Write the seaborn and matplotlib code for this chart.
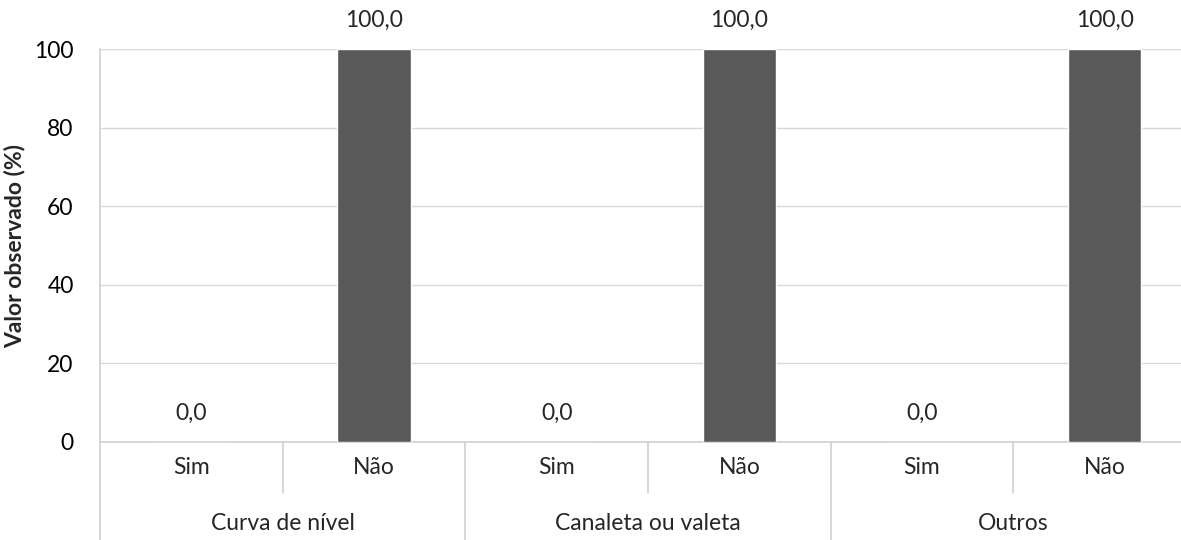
import seaborn as sns
import matplotlib.pyplot as plt
import matplotlib.transforms as mtransforms
import pandas as pd

# dados
grupos = ["Curva de nível", "Canaleta ou valeta", "Outros"]
respostas = ["Sim", "Não"]
valores = [0.0, 100.0, 0.0, 100.0, 0.0, 100.0]

linhas = []
i = 0
for g in grupos:
    for r in respostas:
        linhas.append({"grupo": g, "resposta": r, "slot": f"{g}|{r}", "valor": valores[i]})
        i += 1
df = pd.DataFrame(linhas)

sns.set_style("white")
plt.rcParams["font.family"] = ["Lato", "DejaVu Sans"]
fs = 16.5

fig = plt.figure(figsize=(11.81, 5.4), dpi=100)
ax = fig.add_axes([100 / 1181, (540 - 442) / 540, (1196 - 100) / 1181, (442 - 49) / 540])

sns.barplot(data=df, x="slot", y="valor", color="#595959", width=0.4,
            saturation=1, ax=ax, zorder=3)

ax.set_ylim(0, 100)
ax.set_xlim(-0.5, 5.5)
ax.set_yticks(range(0, 101, 20))
ax.yaxis.grid(True, color="#d9d9d9", linewidth=1, zorder=0)
ax.tick_params(axis="y", length=0, pad=19, labelsize=fs, labelcolor="black")
ax.tick_params(axis="x", length=0, labelbottom=False)
for s in ["top", "right"]:
    ax.spines[s].set_visible(False)
for s in ["left", "bottom"]:
    ax.spines[s].set_color("#d0d0d0")
    ax.spines[s].set_linewidth(1.2)
ax.set_xlabel("")
ax.set_ylabel("Valor observado (%)", fontsize=fs, fontweight="bold", labelpad=6)

rotulos = [f"{v:.1f}".replace(".", ",") for v in df["valor"]]
ax.bar_label(ax.containers[0], labels=rotulos, padding=13, fontsize=fs)

# eixo x em dois níveis
trans = mtransforms.blended_transform_factory(ax.transData, fig.transFigure)
y_eixo = (540 - 442) / 540
y_meio = (540 - 493) / 540
for k, r in enumerate(df["resposta"]):
    ax.text(k, (540 - 467) / 540, r, transform=trans, ha="center", va="center", fontsize=fs)
for k in [0.5, 2.5, 4.5]:
    ax.plot([k, k], [y_eixo, y_meio], transform=trans, color="#d0d0d0", lw=1.2, clip_on=False)
for k in [-0.5, 1.5, 3.5, 5.5]:
    ax.plot([k, k], [y_eixo, 0], transform=trans, color="#d0d0d0", lw=1.2, clip_on=False)
for j, g in enumerate(grupos):
    ax.text(2 * j + 0.5, (540 - 524) / 540, g, transform=trans, ha="center", va="center", fontsize=fs)

fig.savefig("out.png", dpi=100)
